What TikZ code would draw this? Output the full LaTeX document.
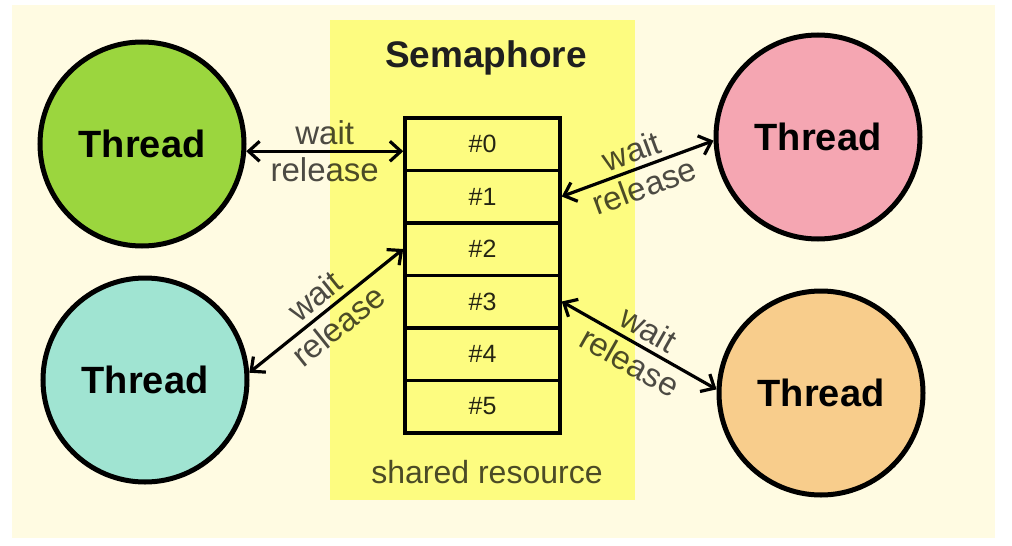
\documentclass[tikz,border=0pt]{standalone}
\usepackage{fontspec}
\setmainfont{Liberation Sans}
\usepackage{tikz}
\usetikzlibrary{positioning,arrows.meta}
\usepackage{xcolor}

\definecolor{creme}{RGB}{255,251,226}
\definecolor{semgelb}{RGB}{253,252,128}
\definecolor{gruen}{RGB}{155,214,62}
\definecolor{tuerkis}{RGB}{160,228,210}
\definecolor{rosa}{RGB}{245,166,178}
\definecolor{apricot}{RGB}{248,205,140}

\begin{document}
\begin{tikzpicture}[x=1pt,y=-1pt,
  thread/.style={circle,draw=black,line width=5pt,minimum size=204pt,inner sep=0pt,
                 font=\fontsize{38}{40}\selectfont\bfseries},
  cell/.style={draw=black,line width=3.5pt,minimum width=155pt,minimum height=52.5pt,
               inner sep=0pt,font=\fontsize{25}{28}\selectfont,text opacity=0.85},
  pfeil/.style={{Straight Barb[length=11pt,width=20pt]}-{Straight Barb[length=11pt,width=20pt]},
                line width=3.2pt},
  lbl/.style={font=\fontsize{33}{36}\selectfont,text opacity=0.7,inner sep=5pt,sloped}]
  % Hintergrund
  \fill[white] (0,0) rectangle (1012,546);
  \fill[creme] (12,5) rectangle (995,538);
  \fill[semgelb] (330,20) rectangle (635,500);

  % Semaphore mit Zellen
  \node[anchor=base,font=\fontsize{37}{40}\selectfont\bfseries,text=black!88] (titel) at (486,67) {Semaphore};
  \foreach \i in {0,...,5}{
    \node[cell] (c\i) at (482.5,144+52.5*\i) {\#\i};
  }
  \node[anchor=base,font=\fontsize{32}{36}\selectfont,text opacity=0.7] (res) at (487,483) {shared resource};

  % Threads
  \node[thread,fill=gruen]   (t1) at (142,144) {Thread};
  \node[thread,fill=tuerkis] (t2) at (145,380) {Thread};
  \node[thread,fill=rosa]    (t3) at (818,137) {Thread};
  \node[thread,fill=apricot] (t4) at (821,393) {Thread};

  % Pfeile wait / release
  \draw[pfeil] (t1.-4) -- (t1.-4 -| c0.west)
    node[lbl,midway,above] {wait} node[lbl,midway,below] {release};
  \draw[pfeil] (t2.4) -- (c2.west)
    node[lbl,midway,above] {wait} node[lbl,midway,below] {release};
  \draw[pfeil] (c1.east) -- (t3.182)
    node[lbl,midway,above] {wait} node[lbl,midway,below] {release};
  \draw[pfeil] (c3.east) -- (t4.178)
    node[lbl,midway,above] {wait} node[lbl,midway,below] {release};

\end{tikzpicture}
\end{document}
